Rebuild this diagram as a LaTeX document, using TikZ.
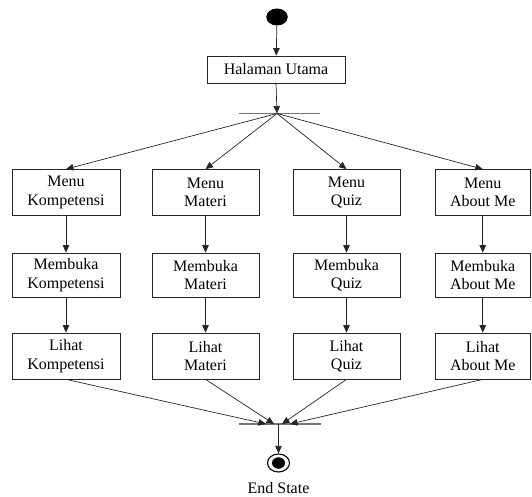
\documentclass[tikz,border=0pt]{standalone}
\usepackage{fontspec}
\setmainfont{Liberation Serif}
\usetikzlibrary{arrows.meta,shapes.geometric}
\tikzset{
  act/.style={draw=black!85, line width=0.7pt, align=center, inner sep=0pt,
    font=\fontsize{16}{18.5}\selectfont, minimum height=46pt},
  conn/.style={draw=black!85, line width=0.7pt, -{Triangle[length=7.5pt,width=6.5pt]}},
  barline/.style={draw=black!55, line width=1.1pt},
}
\begin{document}
\begin{tikzpicture}[x=1pt,y=-1pt]
\useasboundingbox (0,0) rectangle (532,497);
% start
\node[draw=none, fill=black, ellipse, minimum width=21.5pt, minimum height=17pt, inner sep=0pt] (start) at (277,17) {};
\node[act, minimum width=138pt, minimum height=27pt] (home) at (276,69.5) {Halaman Utama};
% fork bar
\coordinate (fl) at (239,113.5);
\coordinate (fr) at (320,113.5);
\coordinate (fork) at (277,113.5);
\draw[barline] (fl) -- (fr);
% columns
\node[act, minimum width=108pt] (m1) at (66,192.5) {Menu\\Kompetensi};
\node[act, minimum width=107pt] (m2) at (205.5,192.5) {Menu\\Materi};
\node[act, minimum width=107pt] (m3) at (346.5,192.5) {Menu\\Quiz};
\node[act, minimum width=95.5pt] (m4) at (482.75,192.5) {Menu\\About Me};
\node[act, minimum width=108pt, minimum height=44.5pt] (b1) at (66,275.25) {Membuka\\Kompetensi};
\node[act, minimum width=107pt, minimum height=44.5pt] (b2) at (205.5,275.25) {Membuka\\Materi};
\node[act, minimum width=107pt, minimum height=44.5pt] (b3) at (346.5,275.25) {Membuka\\Quiz};
\node[act, minimum width=95.5pt, minimum height=44.5pt] (b4) at (482.75,275.25) {Membuka\\About Me};
\node[act, minimum width=108pt] (l1) at (66,356) {Lihat\\Kompetensi};
\node[act, minimum width=107pt] (l2) at (205.5,356) {Lihat\\Materi};
\node[act, minimum width=107pt] (l3) at (346.5,356) {Lihat\\Quiz};
\node[act, minimum width=95.5pt] (l4) at (482.75,356) {Lihat\\About Me};
% join bar
\coordinate (jl) at (239,424);
\coordinate (jr) at (321,424);
\coordinate (join) at (278.5,424);
\coordinate (j1) at (266,424);
\coordinate (j2) at (274,424);
\coordinate (j3) at (282,424);
\coordinate (j4) at (290,424);
\draw[barline] (jl) -- (jr);
% end
\node[draw=black, line width=1.1pt, ellipse, minimum width=22pt, minimum height=18pt, inner sep=0pt] (endo) at (278.5,463) {};
\node[fill=black, ellipse, minimum width=13pt, minimum height=11.5pt, inner sep=0pt] (endi) at (278.5,463) {};
\node[font=\fontsize{16}{18.5}\selectfont, inner sep=0pt] (endlbl) at (278.5,488) {End State};
% connectors
\draw[conn] (start) -- (home);
\draw[conn] (home.south) -- (fork);
\foreach \n in {m1,m2,m3,m4} \draw[conn] (fork) -- (\n.north);
\foreach \i in {1,2,3,4} {
  \draw[conn] (m\i) -- (b\i);
  \draw[conn] (b\i) -- (l\i);
  \draw[conn] (l\i.south) -- (j\i);
}
\draw[conn] (join) -- (endo);
\end{tikzpicture}
\end{document}
